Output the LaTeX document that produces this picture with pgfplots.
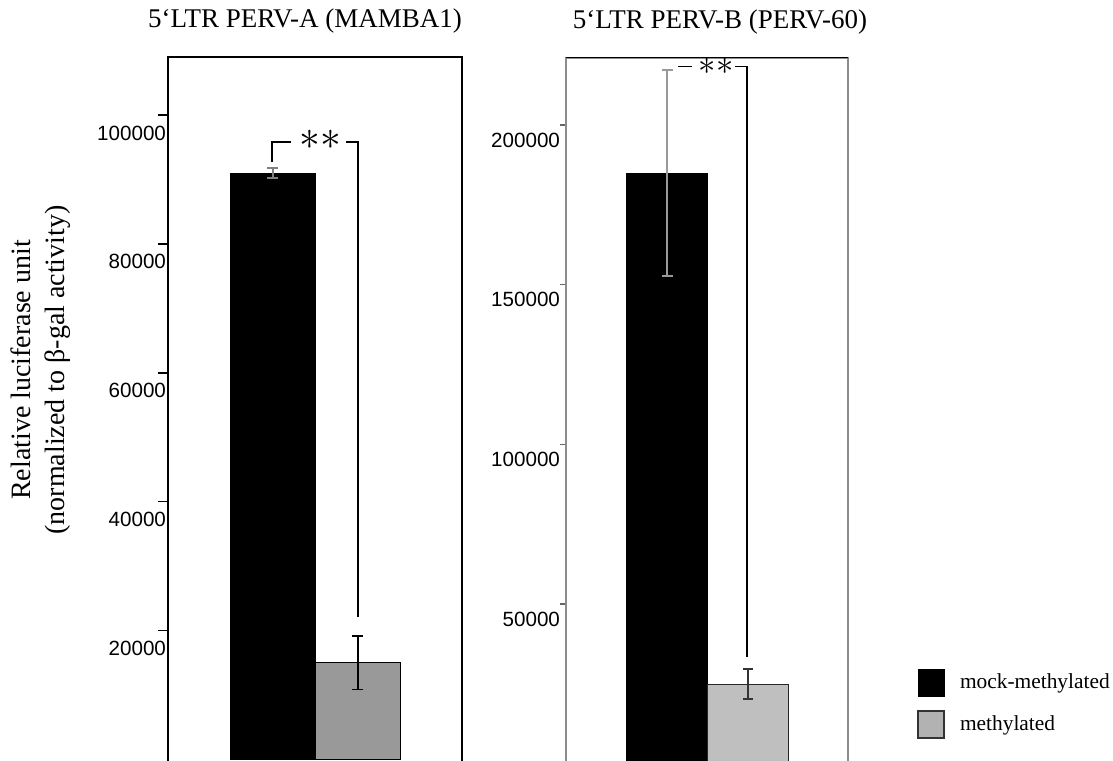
\documentclass[border=0pt]{standalone}
\usepackage{pgfplots}
\pgfplotsset{compat=1.18}
\usepackage{fontspec}
\setmainfont{Liberation Serif}
\newfontfamily\arial{Liberation Sans}
\pgfplotsset{
  sqlegend/.style={legend image code/.code={\draw[##1] (0pt,-6.75pt) rectangle (13pt,6.75pt);}},
  panel/.style={
    scale only axis, anchor=south west, clip=true,
    xtick=\empty, ytick pos=left, tick align=outside,
    /pgf/number format/assume math mode=true,
    /pgf/number format/fixed, /pgf/number format/precision=0,
    /pgf/number format/1000 sep={}, scaled y ticks=false,
    ybar, bar width=1,
  },
}
\begin{document}
\begin{tikzpicture}[x=0.5pt,y=0.5pt]
% ---------- left panel ----------
\begin{axis}[panel,
  at={(84pt,-0.7pt)}, width=147pt, height=352.2pt,
  xmin=-1.235, xmax=2.224, ymin=-300, ymax=109000,
  ytick={20000,40000,60000,80000,100000},
  major tick length=5pt,
  axis line style={line width=0.9pt},
  tick style={line width=0.8pt, black},
  yticklabel style={font=\arial\fontsize{10.3}{12}\selectfont, xshift=7.5pt, yshift=-9pt},
]
\addplot[fill=black, draw=black, bar shift=0pt,
  error bars/.cd, y dir=both, y explicit,
  error bar style={gray, line width=0.8pt},
  error mark options={gray, line width=0.8pt, mark size=2.75pt, rotate=90}]
  coordinates {(0,91000) +- (0,800)};
\addplot[fill=black!40, draw=black, line width=0.6pt, bar shift=0pt,
  error bars/.cd, y dir=both, y explicit,
  error bar style={black, line width=0.9pt},
  error mark options={black, line width=0.9pt, mark size=2.75pt, rotate=90}]
  coordinates {(1,15000) +- (0,4150)};
\end{axis}
% ---------- right panel ----------
\begin{axis}[panel,
  at={(283pt,-1.85pt)}, width=141pt, height=352.8pt,
  xmin=-1.247, xmax=2.235, ymin=0, ymax=221000,
  ytick={50000,100000,150000,200000},
  major tick length=3pt,
  axis line style={line width=0.8pt, black!45},
  tick style={line width=0.7pt, black!60},
  yticklabel style={font=\arial\fontsize{10.3}{12}\selectfont, xshift=3.5pt, yshift=-7.5pt},
  legend style={at={(rel axis cs:1.2447,0.1354)}, anchor=north west, draw=none, fill=none,
    inner sep=0pt, row sep=7pt, font=\fontsize{10.7}{12}\selectfont,
    cells={anchor=west},
    /tikz/every odd column/.append style={column sep=5.5pt}},
]
\addplot[fill=black, draw=black, bar shift=0pt, forget plot,
  error bars/.cd, y dir=both, y explicit,
  error bar style={black!40, line width=0.75pt},
  error mark options={black!40, line width=0.9pt, mark size=2.75pt, rotate=90}]
  coordinates {(0,185000) +- (0,32250)};
\addplot[fill=black!25, draw=black!85, line width=0.6pt, bar shift=0pt, forget plot,
  error bars/.cd, y dir=both, y explicit,
  error bar style={black!80, line width=0.75pt},
  error mark options={black!80, line width=0.9pt, mark size=2.6pt, rotate=90}]
  coordinates {(1,24900) +- (0,4650)};
\addlegendimage{sqlegend, draw=black, fill=black}
\addlegendentry{mock-methylated}
\addlegendimage{sqlegend, draw=black!80, fill=black!30, line width=0.8pt}
\addlegendentry{methylated}
\end{axis}
% top line of right panel in black
\draw[line width=0.9pt] (565.5,702.5) -- (848,702.5);
% ---------- significance brackets ----------
\draw[line width=1pt] (271.7,598.3) -- (271.7,618.3) -- (290.7,618.3);
\draw[line width=1pt] (346,618.3) -- (358.3,618.3) -- (358.3,143);
\node[inner sep=0pt, font=\fontsize{21}{21}\selectfont] at (320,620) {$\ast\ast$};
\draw[line width=0.8pt] (678,693.3) -- (692,693.3);
\draw[line width=0.8pt] (735,693.3) -- (747,693.3) -- (747,103.3);
\node[inner sep=0pt, font=\fontsize{18}{18}\selectfont] at (716,694) {$\ast\ast$};
% ---------- titles and axis label ----------
\node[inner sep=0pt, font=\fontsize{13.5}{15}\selectfont] at (305,739) {5‘LTR PERV-A (MAMBA1)};
\node[inner sep=0pt, font=\fontsize{13.5}{15}\selectfont] at (720,738) {5‘LTR PERV-B (PERV-60)};
\node[inner sep=0pt, rotate=90, align=center, font=\fontsize{14}{17}\selectfont] at (41,390)
  {Relative luciferase unit\\(normalized to β-gal activity)};
\pgfresetboundingbox
\useasboundingbox (0,0) rectangle (1113,760);
\end{tikzpicture}
\end{document}
